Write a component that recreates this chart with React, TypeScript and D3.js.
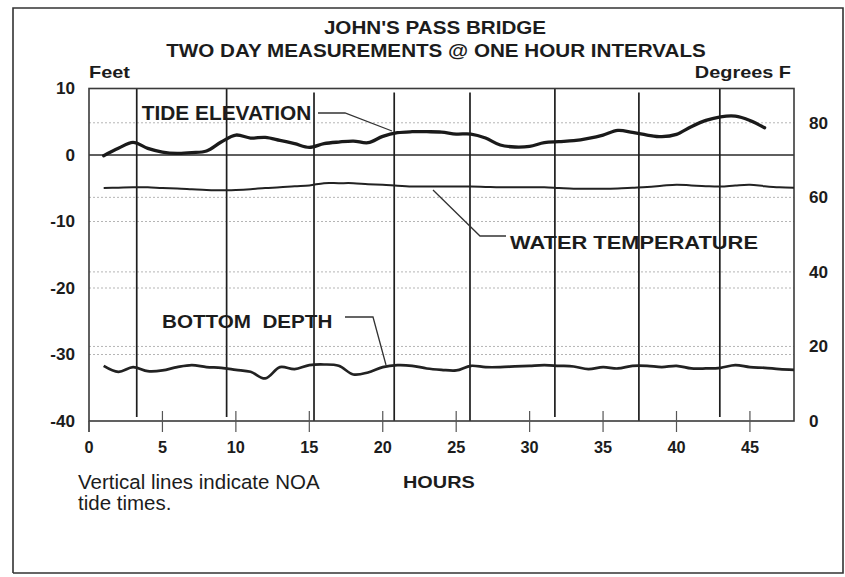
import React from 'react';
import * as d3 from 'd3';

// ---------- data ----------
const titleLines = ["JOHN'S PASS BRIDGE", 'TWO DAY MEASUREMENTS @ ONE HOUR INTERVALS'];

// Tide elevation (ft), hours 1..46
const tideFt = [
  -0.1, 1.0, 1.9, 1.0, 0.45, 0.25, 0.35, 0.6, 1.95, 3.0,
  2.55, 2.65, 2.2, 1.7, 1.15, 1.7, 1.95, 2.1, 1.85, 2.8,
  3.35, 3.5, 3.5, 3.45, 3.15, 3.15, 2.55, 1.5, 1.2, 1.3,
  1.85, 2.0, 2.15, 2.5, 3.0, 3.7, 3.4, 3.0, 2.75, 3.1,
  4.25, 5.2, 5.75, 5.85, 5.2, 4.1,
];

// Water temperature (deg F), hours 1..48
const waterTempF = [
  62.5, 62.6, 62.7, 62.7, 62.5, 62.4, 62.2, 62.0, 61.9, 62.0,
  62.2, 62.5, 62.7, 63.0, 63.2, 63.8, 63.8, 63.8, 63.5, 63.4,
  63.1, 62.9, 62.9, 62.9, 62.9, 62.9, 62.8, 62.7, 62.7, 62.7,
  62.7, 62.5, 62.3, 62.3, 62.3, 62.4, 62.6, 62.8, 63.1, 63.4,
  63.2, 63.0, 62.9, 63.2, 63.4, 63.0, 62.7, 62.6,
];

// Bottom depth (ft), hours 1..48
const bottomDepthFt = [
  -31.7, -32.6, -31.9, -32.5, -32.4, -31.9, -31.6, -31.9, -32.0, -32.3,
  -32.6, -33.6, -31.9, -32.2, -31.6, -31.5, -31.7, -33.0, -32.7, -31.9,
  -31.6, -31.7, -32.1, -32.3, -32.4, -31.7, -31.9, -31.9, -31.8, -31.7,
  -31.6, -31.7, -31.8, -32.2, -31.9, -32.1, -31.7, -31.7, -31.9, -31.7,
  -32.1, -32.1, -32.0, -31.6, -31.9, -32.0, -32.2, -32.3,
];

// NOAA tide times (hours) and kind
const tideTimes = [3.25, 9.37, 15.32, 20.78, 25.94, 31.72, 37.44, 42.95];
const tideKinds = ['H', 'H', 'L', 'L', 'L', 'H', 'L', 'H'];

const hourTicks = [0, 5, 10, 15, 20, 25, 30, 35, 40, 45];
const feetTicks = [10, 0, -10, -20, -30, -40];
const degreeTicks = [80, 60, 40, 20, 0];
const feetGrid = [-10, -20, -30];
const degreeGrid = [20, 40, 60, 80];

const leftUnit = 'Feet';
const rightUnit = 'Degrees F';
const xTitle = 'HOURS';
const noteLines = ['Vertical lines indicate NOA', 'tide times.'];
const seriesLabels = ['TIDE ELEVATION', 'WATER TEMPERATURE', 'BOTTOM  DEPTH'];

// ---------- layout ----------
const W = 845;
const H = 577;
const FONT = "'Liberation Sans', Arial, Helvetica, sans-serif";
const INK = '#1c1c1c';

const P = { left: 89, right: 794, top: 88.5, bottom: 421 };

function T({ x, y, size, sx = 1, anchor = 'start', weight = 'bold', children }: any) {
  return (
    <text
      transform={`translate(${x},${y}) scale(${sx},1)`}
      fontSize={size}
      fontWeight={weight}
      textAnchor={anchor}
      dy="0.36em"
      fill={INK}
      fontFamily={FONT}
      style={{ whiteSpace: 'pre' }}
    >
      {children}
    </text>
  );
}

export default function App() {
  const x = d3.scaleLinear().domain([0, 48]).range([P.left, P.right]);
  const yL = d3.scaleLinear().domain([-40, 10]).range([P.bottom, P.top]);
  const yR = d3.scaleLinear().domain([0, 89.2]).range([P.bottom, P.top]);

  const curve = d3.curveCatmullRom.alpha(0.5);
  const tidePath = d3.line<number>().x((_, i) => x(i + 1)).y((d) => yL(d)).curve(curve)(tideFt) || '';
  const tempPath = d3.line<number>().x((_, i) => x(i + 1)).y((d) => yR(d)).curve(curve)(waterTempF) || '';
  const depthPath = d3.line<number>().x((_, i) => x(i + 1)).y((d) => yL(d)).curve(curve)(bottomDepthFt) || '';

  return (
    <svg
      width={W}
      height={H}
      viewBox={`0 0 ${W} ${H}`}
      style={{ position: 'absolute', left: 0, top: 0, background: '#fff' }}
    >
      <rect x={0} y={0} width={W} height={H} fill="#fff" />
      {/* outer frame */}
      <path d={`M13,573 V8 H843 V573 H13`} fill="none" stroke="#333" strokeWidth={1.6} />

      {/* titles */}
      <T x={435} y={27} size={18.6} sx={1.11} anchor="middle">{titleLines[0]}</T>
      <T x={436} y={50} size={18.6} sx={1.11} anchor="middle">{titleLines[1]}</T>
      <T x={89} y={72} size={17} sx={1.17}>{leftUnit}</T>
      <T x={791} y={72} size={17} sx={1.17} anchor="end">{rightUnit}</T>

      {/* dotted grid */}
      {feetGrid.map((v) => (
        <line key={'fg' + v} x1={P.left} x2={P.right} y1={yL(v)} y2={yL(v)} stroke="#b5b5b5" strokeWidth={1} strokeDasharray="2,2" />
      ))}
      {degreeGrid.map((v) => (
        <line key={'dg' + v} x1={P.left} x2={P.right} y1={yR(v)} y2={yR(v)} stroke="#b5b5b5" strokeWidth={1} strokeDasharray="2,2" />
      ))}

      {/* zero line */}
      <line x1={P.left} x2={P.right} y1={yL(0)} y2={yL(0)} stroke="#2a2a2a" strokeWidth={1.7} />

      {/* tide time verticals */}
      {tideTimes.map((t, i) => (
        <line
          key={'tt' + i}
          x1={x(t)}
          x2={x(t)}
          y1={tideKinds[i] === 'H' ? P.top : P.top + 4}
          y2={tideKinds[i] === 'H' ? P.bottom - 4 : P.bottom}
          stroke="#1e1e1e"
          strokeWidth={1.7}
        />
      ))}

      {/* plot border */}
      <rect x={P.left} y={P.top} width={P.right - P.left} height={P.bottom - P.top} fill="none" stroke="#3a3a3a" strokeWidth={1.6} />
      <line x1={P.left} x2={P.left} y1={P.bottom} y2={P.bottom + 11} stroke="#3a3a3a" strokeWidth={1.6} />

      {/* x ticks */}
      {hourTicks.map((h) => (
        <line key={'xt' + h} x1={x(h)} x2={x(h)} y1={h === 0 ? P.bottom : P.bottom - 10} y2={P.bottom + 11} stroke="#555" strokeWidth={1.2} />
      ))}
      {hourTicks.map((h) => (
        <T key={'xl' + h} x={x(h)} y={447} size={16.3} sx={1.0} anchor="middle">{String(h)}</T>
      ))}

      {/* y labels */}
      {feetTicks.map((v) => (
        <T key={'yl' + v} x={75} y={yL(v)} size={16.3} sx={1.05} anchor="end">{String(v)}</T>
      ))}
      {degreeTicks.map((v) => (
        <T key={'yr' + v} x={809} y={yR(v)} size={16.3} sx={1.05}>{String(v)}</T>
      ))}

      {/* series */}
      <path d={tempPath} fill="none" stroke="#222" strokeWidth={2} strokeLinejoin="round" />
      <path d={depthPath} fill="none" stroke="#222" strokeWidth={2.7} strokeLinejoin="round" />
      <path d={tidePath} fill="none" stroke="#1a1a1a" strokeWidth={3.3} strokeLinejoin="round" strokeLinecap="round" />

      {/* series annotations */}
      <T x={141.7} y={113} size={19.5} sx={1.07}>{seriesLabels[0]}</T>
      <path d="M318,113 L345,113 L392,131" fill="none" stroke="#333" strokeWidth={1.3} />
      <T x={510} y={242} size={19} sx={1.15}>{seriesLabels[1]}</T>
      <path d="M433,190 L480,236 L506,236" fill="none" stroke="#333" strokeWidth={1.3} />
      <T x={162} y={321.7} size={18.6} sx={1.11}>{seriesLabels[2]}</T>
      <path d="M345,317 L373,317 L386,365" fill="none" stroke="#333" strokeWidth={1.3} />

      {/* footnote and x title */}
      <T x={78} y={482} size={20.5} sx={1.0} weight="normal">{noteLines[0]}</T>
      <T x={78} y={503} size={20.5} sx={1.0} weight="normal">{noteLines[1]}</T>
      <T x={403} y={482} size={16.3} sx={1.22}>{xTitle}</T>
    </svg>
  );
}
